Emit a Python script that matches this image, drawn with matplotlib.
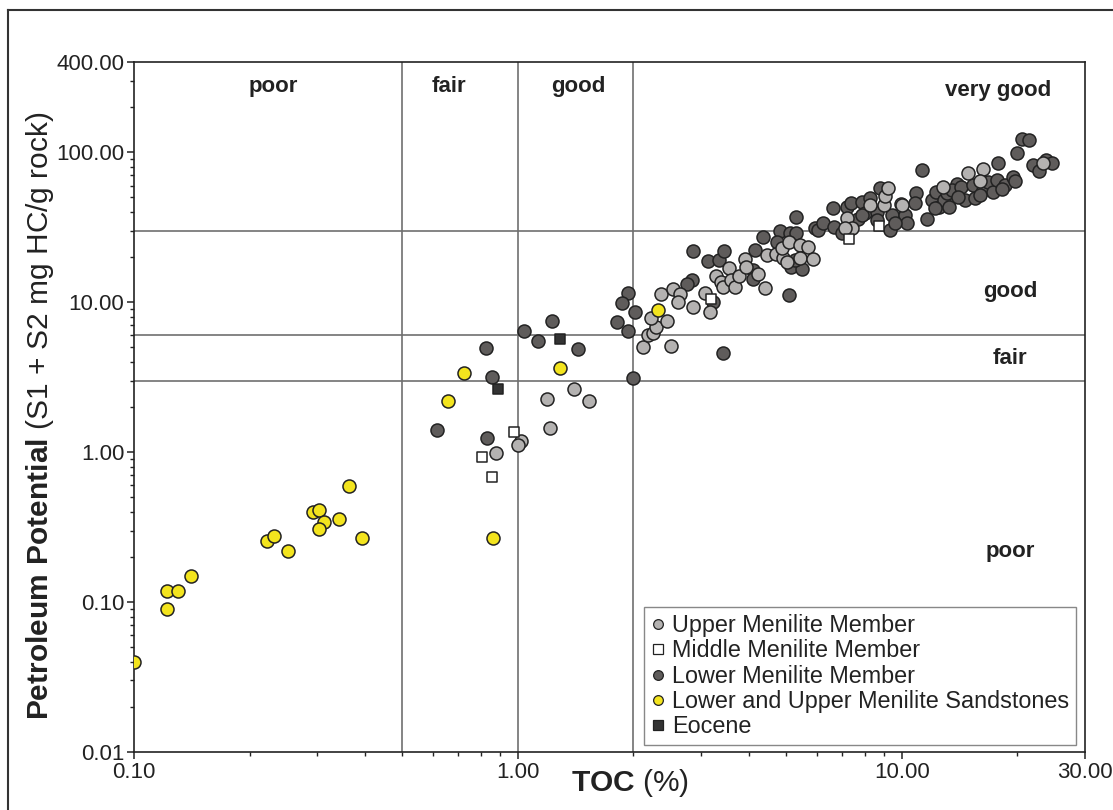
import matplotlib
matplotlib.use("Agg")
import matplotlib.pyplot as plt
from matplotlib.lines import Line2D
from matplotlib.ticker import FixedLocator, LogLocator, NullFormatter

plt.rcParams['font.family'] = ['Liberation Sans', 'DejaVu Sans']
plt.rcParams['mathtext.fontset'] = 'custom'
plt.rcParams['mathtext.rm'] = 'Liberation Sans'
plt.rcParams['mathtext.bf'] = 'Liberation Sans:bold'

# Rock-Eval data: TOC (%) vs S1+S2 (mg HC/g rock)
upper_toc = [1.19, 1.21, 1.40, 1.53, 1.02, 1.00, 0.876,
             2.12, 2.50, 2.18, 2.25, 2.29, 2.22, 2.44, 2.36, 2.53, 2.64, 2.61,
             3.16, 3.07, 3.28, 3.38, 3.42, 3.54, 3.60, 3.67, 3.76, 3.90, 3.92,
             4.22, 4.40, 4.45, 4.70, 4.90, 5.02, 4.87, 5.08, 5.42, 5.42, 5.69,
             5.86, 2.85,
             7.19, 7.40, 8.25, 9.00, 9.05, 9.20, 9.95, 7.10,
             12.8, 14.9, 16.3, 16.0, 23.3, 10.0]
upper_pp = [2.26, 1.45, 2.63, 2.19, 1.18, 1.11, 0.985,
            5.0, 5.08, 6.0, 6.2, 6.8, 7.9, 7.5, 11.3, 12.2, 11.3, 10.0,
            8.58, 11.5, 14.9, 13.6, 12.6, 16.9, 14.0, 12.6, 14.9, 19.3, 17.1,
            15.4, 12.4, 20.5, 20.9, 19.6, 18.4, 22.9, 25.1, 24.0, 19.6, 23.3,
            19.3, 9.25,
            36.3, 31.1, 44.3, 44.3, 50.9, 57.5, 44.9, 31.1,
            58.3, 72.6, 77.0, 64.0, 84.4, 44.3]

middle_toc = [0.806, 0.856, 0.976, 3.18, 7.28, 8.71]
middle_pp = [0.93, 0.68, 1.36, 10.5, 26.3, 32.1]

lower_toc = [0.615, 0.83, 0.825, 0.856, 1.04, 1.13, 1.23, 1.43, 1.99, 1.94,
             1.87, 2.02, 1.81, 1.94,
             2.85, 2.84, 2.75, 3.12, 3.34, 3.44, 3.42, 3.22, 4.14, 4.10, 4.10,
             4.34, 5.08, 4.81, 5.10, 5.30, 5.30, 5.13, 5.50, 5.26, 4.73, 5.94,
             6.05,
             6.61, 7.19, 7.38, 7.87, 8.25, 8.76, 6.23, 6.65, 7.68, 8.00, 8.60,
             9.30, 9.45, 10.2, 10.3, 9.60, 10.9, 10.8, 7.00, 7.87, 8.60,
             11.3, 11.65, 12.0, 12.3, 12.5, 12.9, 13.1, 13.9, 13.5, 14.6, 14.3,
             15.5, 15.3, 16.3, 16.8, 17.3, 17.7, 17.8, 18.6, 19.5, 19.7, 19.9,
             20.6, 21.4, 22.0, 22.8, 23.8, 24.6,
             12.2, 13.3, 14.0, 16.0, 18.2]
lower_pp = [1.40, 1.24, 4.93, 3.16, 6.41, 5.5, 7.47, 4.86, 3.11, 11.5,
            9.85, 8.58, 7.36, 6.41,
            21.9, 14.0, 13.2, 18.8, 19.1, 21.9, 4.57, 10.0, 22.2, 16.3, 14.3,
            27.1, 11.1, 29.7, 29.0, 29.0, 36.9, 17.1, 16.6, 19.1, 25.1, 31.1,
            30.2,
            42.4, 43.0, 45.7, 46.4, 49.4, 57.5, 33.6, 31.6, 35.8, 39.2, 39.8,
            30.2, 38.1, 38.1, 33.6, 33.6, 53.2, 45.7, 28.8, 38.1, 35.2,
            75.9, 35.8, 47.9, 54.3, 43.0, 47.9, 53.2, 61.1, 55.7, 47.9, 58.3,
            49.4, 60.2, 55.7, 63.0, 54.3, 65.1, 84.4, 60.2, 68.1, 64.0, 98.5,
            122, 120, 81.9, 74.8, 88.5, 84.4,
            42.4, 43.0, 50.5, 52.0, 57.0]

sand_toc = [0.10, 0.122, 0.122, 0.130, 0.141, 0.222, 0.232, 0.252, 0.292,
            0.303, 0.313, 0.303, 0.342, 0.363, 0.393, 0.657, 0.723, 0.86,
            1.29, 2.31]
sand_pp = [0.04, 0.118, 0.09, 0.118, 0.149, 0.255, 0.275, 0.219, 0.40,
           0.41, 0.34, 0.307, 0.357, 0.593, 0.267, 2.19, 3.36, 0.267,
           3.63, 8.85]

eocene_toc = [0.887, 1.29]
eocene_pp = [2.63, 5.67]

toc_bounds = [0.5, 1.0, 2.0]
pp_bounds = [3.0, 6.0, 30.0]

xtick_vals = [0.1, 1, 10, 30]
xtick_labels = ['0.10', '1.00', '10.00', '30.00']
ytick_vals = [0.01, 0.1, 1, 10, 100, 400]
ytick_labels = ['0.01', '0.10', '1.00', '10.00', '100.00', '400.00']

W, H = 1113, 810
fig = plt.figure(figsize=(W / 100, H / 100), dpi=100)
ax = fig.add_axes([134 / W, 58 / H, 951 / W, 690 / H])
ax.set_xscale('log')
ax.set_yscale('log')
ax.set_xlim(0.1, 30)
ax.set_ylim(0.01, 400)

for v in toc_bounds:
    ax.axvline(v, color='#707070', lw=1.2, zorder=1)
for v in pp_bounds:
    ax.axhline(v, color='#707070', lw=1.2, zorder=1)

edge = '#222222'
ax.scatter(lower_toc, lower_pp, s=88, c='#5f5c5b', edgecolors=edge, linewidths=1.1, zorder=3)
ax.scatter(upper_toc, upper_pp, s=88, c='#b4b2b1', edgecolors=edge, linewidths=1.1, zorder=4)
ax.scatter(sand_toc, sand_pp, s=88, c='#f3e41e', edgecolors=edge, linewidths=1.1, zorder=5)
ax.scatter(middle_toc, middle_pp, s=62, marker='s', c='white', edgecolors=edge, linewidths=1.1, zorder=6)
ax.scatter(eocene_toc, eocene_pp, s=62, marker='s', c='#333333', edgecolors=edge, linewidths=1.1, zorder=6)

ax.xaxis.set_major_locator(FixedLocator(xtick_vals))
ax.set_xticklabels(xtick_labels)
ax.yaxis.set_major_locator(FixedLocator(ytick_vals))
ax.set_yticklabels(ytick_labels)
for a in (ax.xaxis, ax.yaxis):
    a.set_minor_locator(LogLocator(base=10, subs=range(2, 10)))
    a.set_minor_formatter(NullFormatter())
ax.tick_params(which='major', direction='out', length=5, width=1.1, color='#222',
               labelsize=16, labelcolor='#222', pad=2)
ax.tick_params(which='minor', direction='out', length=3, width=1.0, color='#222')
for sp in ax.spines.values():
    sp.set_linewidth(1.2)
    sp.set_color('#222')

# class labels
lab = dict(transform=ax.transAxes, ha='center', va='center', fontsize=16,
           fontweight='bold', color='#222')
ax.text(0.146, 0.965, 'poor', **lab)
ax.text(0.331, 0.965, 'fair', **lab)
ax.text(0.467, 0.965, 'good', **lab)
ax.text(0.9085, 0.958, 'very good', **lab)
ax.text(0.921, 0.667, 'good', **lab)
ax.text(0.921, 0.570, 'fair', **lab)
ax.text(0.921, 0.290, 'poor', **lab)

fig.text(40 / W, 1 - 416 / H,
         r'$\bf{Petroleum\ Potential}$ (S1 + S2 mg HC/g rock)',
         rotation=90, ha='center', va='center', fontsize=21.5, color='#222')
fig.text(630 / W, 1 - 783 / H, r'$\bf{TOC}$ (%)',
         ha='center', va='center', fontsize=21.5, color='#222')

handles = [
    Line2D([], [], ls='none', marker='o', ms=7, mfc='#b4b2b1', mec=edge, mew=0.9),
    Line2D([], [], ls='none', marker='s', ms=6.5, mfc='white', mec=edge, mew=0.9),
    Line2D([], [], ls='none', marker='o', ms=7, mfc='#5f5c5b', mec=edge, mew=0.9),
    Line2D([], [], ls='none', marker='o', ms=7, mfc='#f3e41e', mec=edge, mew=0.9),
    Line2D([], [], ls='none', marker='s', ms=6.5, mfc='#333333', mec=edge, mew=0.9),
]
names = ['Upper Menilite Member', 'Middle Menilite Member', 'Lower Menilite Member',
         'Lower and Upper Menilite Sandstones', 'Eocene']
leg = ax.legend(handles, names, loc='upper left',
                bbox_to_anchor=(644 / W, 1 - 607 / H), bbox_transform=fig.transFigure,
                borderaxespad=0, fontsize=16.8, handlelength=0.6, handletextpad=0.3,
                labelspacing=0.1, borderpad=0.3, fancybox=False, framealpha=1)
leg.get_frame().set_edgecolor('#888888')
leg.get_frame().set_linewidth(1.0)
for t in leg.get_texts():
    t.set_color('#222')

# outer frame
fig.add_artist(Line2D([8 / W, 8 / W], [0, 1 - 10 / H], color='#333', lw=1.5))
fig.add_artist(Line2D([8 / W, 1], [1 - 10 / H, 1 - 10 / H], color='#333', lw=1.5))

fig.savefig('out.png', dpi=100)
